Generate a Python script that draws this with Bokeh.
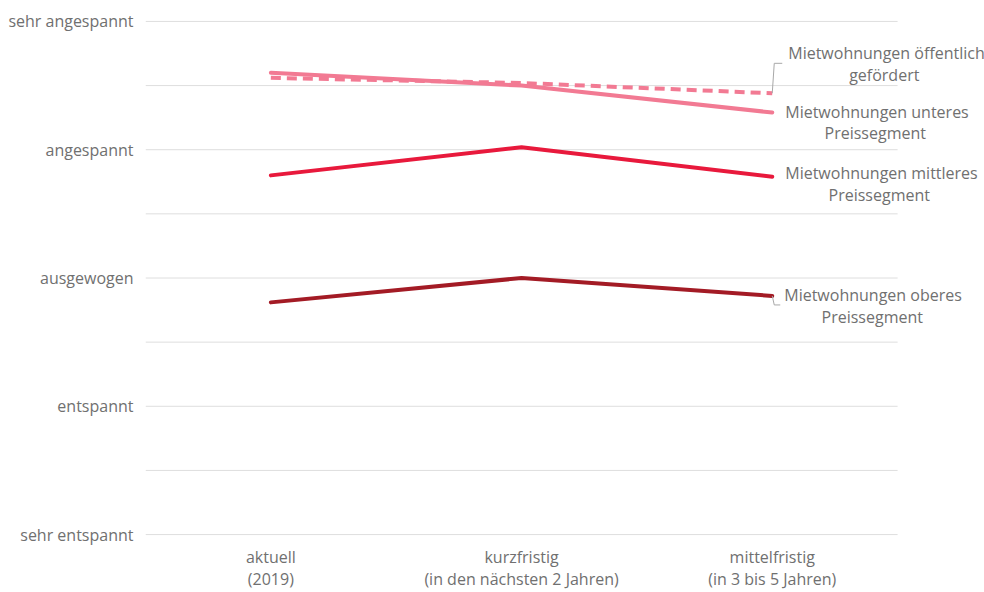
from bokeh.plotting import figure
from bokeh.models import Range1d, FixedTicker
from bokeh.core.properties import value
from bokeh.embed import file_html
from bokeh.resources import INLINE

categories = ["aktuell\n(2019)", "kurzfristig\n(in den nächsten 2 Jahren)", "mittelfristig\n(in 3 bis 5 Jahren)"]
y_tick_values = [1, 2, 3, 4, 5]
y_tick_labels = ["sehr entspannt", "entspannt", "ausgewogen", "angespannt", "sehr angespannt"]
y_grid_values = [1, 1.5, 2, 2.5, 3, 3.5, 4, 4.5, 5]

oeffentlich = [4.56, 4.52, 4.44]
unteres = [4.60, 4.50, 4.29]
mittleres = [3.80, 4.02, 3.79]
oberes = [2.81, 3.00, 2.86]

series_names = [
    ("Mietwohnungen öffentlich", "gefördert"),
    ("Mietwohnungen unteres", "Preissegment"),
    ("Mietwohnungen mittleres", "Preissegment"),
    ("Mietwohnungen oberes", "Preissegment"),
]
colors = ["#f27a93", "#f27a93", "#e8193c", "#a31b25"]

FONT = "Open Sans"
TXT = "#707070"
FS = "16px"

x_pos = [i + 0.5 for i in range(len(categories))]
n_cat = len(categories)

W, H = 984, 592
LEFT, TOP, BOTTOM = 145, 19, 55
px_per_cat = 250.7
x_end = (W - LEFT) / px_per_cat
px_per_unit_y = 128.5

p = figure(width=W, height=H, x_range=Range1d(0, x_end),
           y_range=Range1d(0.985, 5.015), output_backend="svg", toolbar_location=None,
           min_border_left=LEFT, min_border_right=0, min_border_top=TOP, min_border_bottom=BOTTOM)
p.outline_line_color = None
p.background_fill_color = "white"

p.yaxis.ticker = FixedTicker(ticks=y_tick_values)
p.yaxis.major_label_overrides = {v: l for v, l in zip(y_tick_values, y_tick_labels)}
p.xaxis.ticker = FixedTicker(ticks=x_pos)
p.xaxis.major_label_overrides = {x: c for x, c in zip(x_pos, categories)}
for ax in (p.xaxis[0], p.yaxis[0]):
    ax.axis_line_color = None
    ax.major_tick_line_color = None
    ax.minor_tick_line_color = None
    ax.major_tick_out = 0
    ax.major_tick_in = 0
    ax.minor_tick_out = 0
    ax.major_label_text_font = FONT
    ax.major_label_text_font_size = FS
    ax.major_label_text_color = TXT
p.yaxis.major_label_standoff = 12
p.xaxis.major_label_standoff = 9
p.xaxis.major_label_text_line_height = 1.0

p.xgrid.grid_line_color = None
p.ygrid.grid_line_color = None

# horizontal rules across the category area only
p.segment(x0=[0] * len(y_grid_values), x1=[n_cat] * len(y_grid_values),
          y0=y_grid_values, y1=y_grid_values, line_color="#dedede", line_width=1)

# lines
p.line(x_pos, unteres, line_color=colors[1], line_width=4, line_cap="round")
p.line(x_pos, mittleres, line_color=colors[2], line_width=4, line_cap="round")
p.line(x_pos, oberes, line_color=colors[3], line_width=4, line_cap="round")
p.line(x_pos, oeffentlich, line_color=colors[0], line_width=4, line_dash="10 6")

# label placement (screen px relative to the last point)
last_x = x_pos[-1]
series_last = [oeffentlich[-1], unteres[-1], mittleres[-1], oberes[-1]]
line1_dx = [16, 13, 13, 12]     # left edge of first line
line2_dx = [112, 103, 107, 100]  # centre of second line
label_dy = [-40, -1, -4, -1]    # screen px, down positive, first line

for i, (l1, l2) in enumerate(series_names):
    y1 = series_last[i] - label_dy[i] / px_per_unit_y
    y2 = series_last[i] - (label_dy[i] + 22) / px_per_unit_y
    p.text(x=[last_x + line1_dx[i] / px_per_cat], y=[y1], text=[l1], text_align="left",
           text_baseline="middle", text_font=value(FONT), text_font_size=FS, text_color=TXT)
    p.text(x=[last_x + line2_dx[i] / px_per_cat], y=[y2], text=[l2], text_align="center",
           text_baseline="middle", text_font=value(FONT), text_font_size=FS, text_color=TXT)

# connectors
v = series_last[0]
p.line([last_x, last_x + 2 / px_per_cat, last_x + 10 / px_per_cat],
       [v, v + 30 / px_per_unit_y, v + 30 / px_per_unit_y], line_color="#a8a8a8", line_width=1)
v = series_last[3]
p.line([last_x, last_x + 2 / px_per_cat, last_x + 8 / px_per_cat],
       [v, v - 9 / px_per_unit_y, v - 9 / px_per_unit_y], line_color="#a8a8a8", line_width=1)

open("out.html", "w").write(file_html(p, INLINE))
